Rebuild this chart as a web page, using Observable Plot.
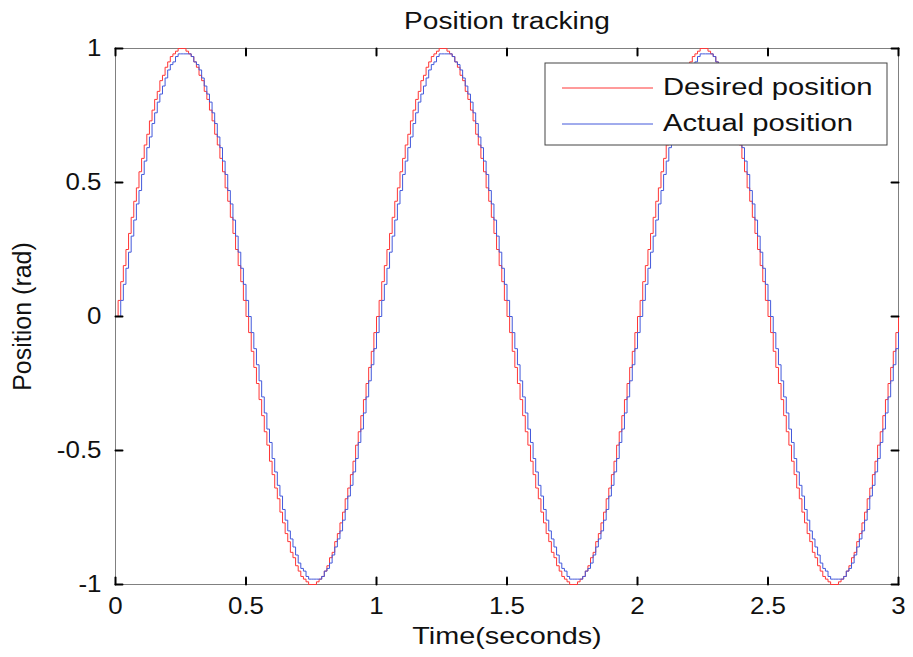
<!DOCTYPE html>
<html>
<head>
<meta charset="utf-8">
<script src="https://cdn.jsdelivr.net/npm/d3@7"></script>
<script src="https://cdn.jsdelivr.net/npm/@observablehq/plot@0.6"></script>
<style>
  html, body { margin: 0; padding: 0; background: #fff; }
  #chart svg { display: block; }
</style>
</head>
<body>
<div id="chart"></div>
<script>
// Sampled position signals (rad), one value every sampleTime seconds from t = 0 to t = 3.
const sampleTime = 0.01;

const desired = [
  0,.06,.13,.19,.25,.31,.37,.43,.48,.54,.59,.64,.68,.73,.77,.81,.84,.88,.90,.93,.95,.97,.98,.99,1,1,1,.99,.98,.97,.95,.93,.90,.88,.84,.81,.77,.73,.68,.64,.59,.54,.48,.43,.37,.31,.25,.19,.13,.06,
  0,-.06,-.13,-.19,-.25,-.31,-.37,-.43,-.48,-.54,-.59,-.64,-.68,-.73,-.77,-.81,-.84,-.88,-.90,-.93,-.95,-.97,-.98,-.99,-1,-1,-1,-.99,-.98,-.97,-.95,-.93,-.90,-.88,-.84,-.81,-.77,-.73,-.68,-.64,-.59,-.54,-.48,-.43,-.37,-.31,-.25,-.19,-.13,-.06,
  0,.06,.13,.19,.25,.31,.37,.43,.48,.54,.59,.64,.68,.73,.77,.81,.84,.88,.90,.93,.95,.97,.98,.99,1,1,1,.99,.98,.97,.95,.93,.90,.88,.84,.81,.77,.73,.68,.64,.59,.54,.48,.43,.37,.31,.25,.19,.13,.06,
  0,-.06,-.13,-.19,-.25,-.31,-.37,-.43,-.48,-.54,-.59,-.64,-.68,-.73,-.77,-.81,-.84,-.88,-.90,-.93,-.95,-.97,-.98,-.99,-1,-1,-1,-.99,-.98,-.97,-.95,-.93,-.90,-.88,-.84,-.81,-.77,-.73,-.68,-.64,-.59,-.54,-.48,-.43,-.37,-.31,-.25,-.19,-.13,-.06,
  0,.06,.13,.19,.25,.31,.37,.43,.48,.54,.59,.64,.68,.73,.77,.81,.84,.88,.90,.93,.95,.97,.98,.99,1,1,1,.99,.98,.97,.95,.93,.90,.88,.84,.81,.77,.73,.68,.64,.59,.54,.48,.43,.37,.31,.25,.19,.13,.06,
  0,-.06,-.13,-.19,-.25,-.31,-.37,-.43,-.48,-.54,-.59,-.64,-.68,-.73,-.77,-.81,-.84,-.88,-.90,-.93,-.95,-.97,-.98,-.99,-1,-1,-1,-.99,-.98,-.97,-.95,-.93,-.90,-.88,-.84,-.81,-.77,-.73,-.68,-.64,-.59,-.54,-.48,-.43,-.37,-.31,-.25,-.19,-.13,-.06,
  0
];

const actual = [
  0,
  0,.06,.12,.18,.24,.30,.36,.42,.47,.53,.58,.63,.67,.72,.76,.80,.83,.86,.89,.92,.94,.95,.97,.98,.98,.98,.98,.98,.97,.95,.94,.92,.89,.86,.83,.80,.76,.72,.67,.63,.58,.53,.47,.42,.36,.30,.24,.18,.12,.06,
  0,-.06,-.12,-.18,-.24,-.30,-.36,-.42,-.47,-.53,-.58,-.63,-.67,-.72,-.76,-.80,-.83,-.86,-.89,-.92,-.94,-.95,-.97,-.98,-.98,-.98,-.98,-.98,-.97,-.95,-.94,-.92,-.89,-.86,-.83,-.80,-.76,-.72,-.67,-.63,-.58,-.53,-.47,-.42,-.36,-.30,-.24,-.18,-.12,-.06,
  0,.06,.12,.18,.24,.30,.36,.42,.47,.53,.58,.63,.67,.72,.76,.80,.83,.86,.89,.92,.94,.95,.97,.98,.98,.98,.98,.98,.97,.95,.94,.92,.89,.86,.83,.80,.76,.72,.67,.63,.58,.53,.47,.42,.36,.30,.24,.18,.12,.06,
  0,-.06,-.12,-.18,-.24,-.30,-.36,-.42,-.47,-.53,-.58,-.63,-.67,-.72,-.76,-.80,-.83,-.86,-.89,-.92,-.94,-.95,-.97,-.98,-.98,-.98,-.98,-.98,-.97,-.95,-.94,-.92,-.89,-.86,-.83,-.80,-.76,-.72,-.67,-.63,-.58,-.53,-.47,-.42,-.36,-.30,-.24,-.18,-.12,-.06,
  0,.06,.12,.18,.24,.30,.36,.42,.47,.53,.58,.63,.67,.72,.76,.80,.83,.86,.89,.92,.94,.95,.97,.98,.98,.98,.98,.98,.97,.95,.94,.92,.89,.86,.83,.80,.76,.72,.67,.63,.58,.53,.47,.42,.36,.30,.24,.18,.12,.06,
  0,-.06,-.12,-.18,-.24,-.30,-.36,-.42,-.47,-.53,-.58,-.63,-.67,-.72,-.76,-.80,-.83,-.86,-.89,-.92,-.94,-.95,-.97,-.98,-.98,-.98,-.98,-.98,-.97,-.95,-.94,-.92,-.89,-.86,-.83,-.80,-.76,-.72,-.67,-.63,-.58,-.53,-.47,-.42,-.36,-.30,-.24,-.18,-.12,-.06
];

const xTicks = [0, 0.5, 1, 1.5, 2, 2.5, 3];
const yTicks = [-1, -0.5, 0, 0.5, 1];
const seriesNames = ["Desired position", "Actual position"];
const seriesColors = ["#ff3636", "#4359db"];
const titleText = "Position tracking";
const xLabel = "Time(seconds)";
const yLabel = "Position (rad)";

const FONT = '"Liberation Sans", Arial, Helvetica, sans-serif';

const toRows = (values, name) => values.map((v, i) => ({t: i * sampleTime, v, series: name}));
const desiredRows = toRows(desired, seriesNames[0]);
const actualRows = toRows(actual, seriesNames[1]);

// Short inward tick drawn as a vector shape.
const tickShape = {draw(context, l) { context.moveTo(0, 0); context.lineTo(0, -l); }};
const tickStyle = {length: 7, anchor: "start", shape: tickShape, stroke: "#000", strokeWidth: 2};

const chart = Plot.plot({
  width: 913,
  height: 657,
  marginLeft: 115,
  marginRight: 15,
  marginTop: 48,
  marginBottom: 73,
  style: {fontFamily: FONT, fontSize: "24px", color: "#000", background: "#fff", overflow: "visible"},
  x: {domain: [0, 3]},
  y: {domain: [-1, 1]},
  marks: [
    Plot.frame({stroke: "#808080", strokeWidth: 1}),
    Plot.line(desiredRows, {x: "t", y: "v", curve: "step-after", stroke: seriesColors[0], strokeWidth: 1}),
    Plot.line(actualRows, {x: "t", y: "v", curve: "step-after", stroke: seriesColors[1], strokeWidth: 1}),
    // inward ticks on all four sides
    Plot.vector(xTicks, {x: d => d, frameAnchor: "bottom", rotate: 0, ...tickStyle}),
    Plot.vector(xTicks, {x: d => d, frameAnchor: "top", rotate: 180, ...tickStyle}),
    Plot.vector(yTicks, {y: d => d, frameAnchor: "left", rotate: 90, ...tickStyle}),
    Plot.vector(yTicks, {y: d => d, frameAnchor: "right", rotate: -90, ...tickStyle}),
    // tick labels
    Plot.axisX(xTicks, {anchor: "bottom", tickSize: 0, tickPadding: 12, tickFormat: d => String(d), label: null, fill: "#111", fontSize: 24}),
    Plot.axisY(yTicks, {anchor: "left", tickSize: 0, tickPadding: 14, tickFormat: d => String(d), label: null, fill: "#111", fontSize: 24}),
    // title and axis titles
    Plot.text([titleText], {frameAnchor: "top", dy: -27, lineAnchor: "middle", textAnchor: "middle", fontSize: 23, fill: "#111"}),
    Plot.text([xLabel], {frameAnchor: "bottom", dy: 52, lineAnchor: "middle", textAnchor: "middle", fontSize: 24, fill: "#111"}),
    Plot.text([yLabel], {frameAnchor: "left", dx: -93, rotate: -90, lineAnchor: "middle", textAnchor: "middle", fontSize: 25, fill: "#111"})
  ]
});

document.getElementById("chart").append(chart);

// Legend box in the upper right of the axes
const svg = d3.select(chart);
const legend = svg.append("g")
  .attr("font-family", FONT).attr("font-size", 23).attr("text-anchor", "start");
legend.append("rect")
  .attr("x", 545).attr("y", 63).attr("width", 342).attr("height", 82)
  .attr("fill", "#fff").attr("stroke", "#444").attr("stroke-width", 1);
seriesNames.forEach((name, i) => {
  const cy = 87 + i * 36;
  legend.append("line")
    .attr("x1", 562).attr("x2", 653).attr("y1", cy + 1).attr("y2", cy + 1)
    .attr("stroke", seriesColors[i]).attr("stroke-width", 1);
  legend.append("text")
    .attr("x", 663).attr("y", cy).attr("dy", "0.35em")
    .attr("text-anchor", "start")
    .attr("fill", "#111").text(name);
});

// Widen horizontal lettering to the broad, loosely spaced face used in the figure
const widen = new Map([[titleText, 1.22], [xLabel, 1.2], [seriesNames[0], 1.27], [seriesNames[1], 1.27]]);
chart.querySelectorAll("text").forEach(t => {
  const tr = t.getAttribute("transform") || "";
  if (tr.includes("rotate")) return;
  const k = widen.get(t.textContent) ?? 1.08;
  const w = t.getComputedTextLength();
  if (w > 0) {
    t.setAttribute("textLength", (w * k).toFixed(1));
    t.setAttribute("lengthAdjust", "spacingAndGlyphs");
  }
});
</script>
</body>
</html>
